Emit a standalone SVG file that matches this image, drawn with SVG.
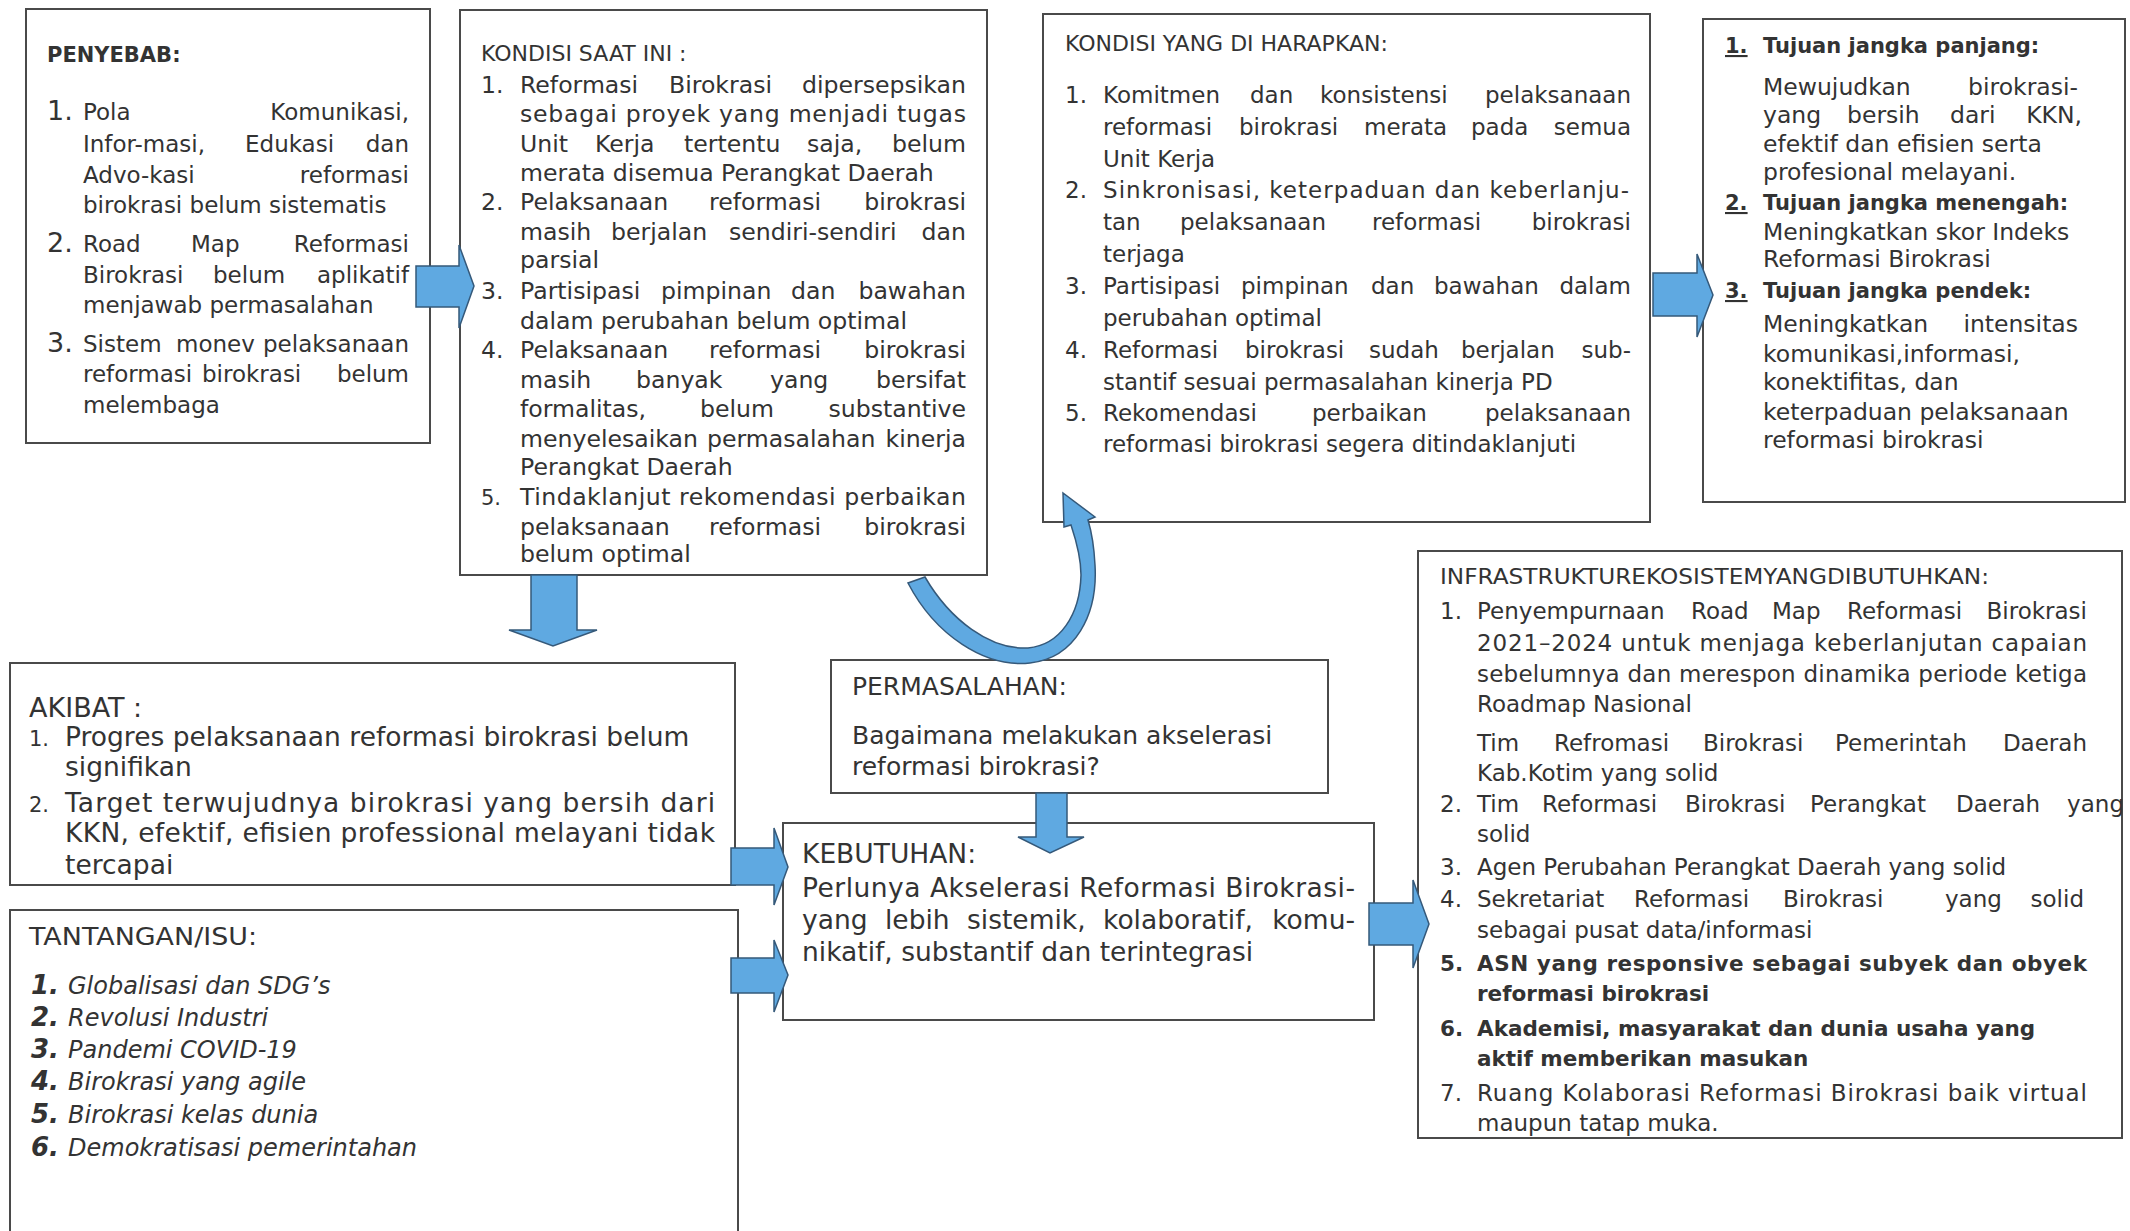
<svg xmlns="http://www.w3.org/2000/svg" width="2130" height="1231" viewBox="0 0 2130 1231">
<style>
.box{fill:#fff;stroke:#4a4a4a;stroke-width:2}
.arr{fill:#5fa9e1;stroke:#35597a;stroke-width:1.5;stroke-linejoin:miter}
text{font-family:"DejaVu Sans",Verdana,sans-serif;fill:#333}
.e{text-anchor:end}
.b{font-weight:bold}
.i{font-style:italic}
</style>
<rect width="2130" height="1231" fill="#fff"/>

<g id="penyebab" font-size="23">
<rect class="box" x="26" y="9" width="404" height="434"/>
<text x="47" y="62" class="b" font-size="21">PENYEBAB:</text>
<text x="47" y="120" font-size="27">1.</text>
<text x="83" y="120">Pola</text><text x="409" y="120" class="e">Komunikasi,</text>
<text x="83" y="152">Infor-masi,</text><text x="245" y="152">Edukasi</text><text x="409" y="152" class="e">dan</text>
<text x="83" y="183">Advo-kasi</text><text x="409" y="183" class="e">reformasi</text>
<text x="83" y="213">birokrasi belum sistematis</text>
<text x="47" y="252" font-size="27">2.</text>
<text x="83" y="252">Road</text><text x="191" y="252">Map</text><text x="409" y="252" class="e">Reformasi</text>
<text x="83" y="283">Birokrasi</text><text x="213" y="283">belum</text><text x="409" y="283" class="e">aplikatif</text>
<text x="83" y="313">menjawab permasalahan</text>
<text x="47" y="352" font-size="27">3.</text>
<text x="83" y="352">Sistem</text><text x="176" y="352">monev</text><text x="409" y="352" class="e">pelaksanaan</text>
<text x="83" y="382">reformasi</text><text x="202" y="382">birokrasi</text><text x="409" y="382" class="e">belum</text>
<text x="83" y="413">melembaga</text>
</g>

<g id="kondisi-saat-ini" font-size="23.6">
<rect class="box" x="460" y="10" width="527" height="565"/>
<text x="481" y="61" font-size="22">KONDISI SAAT INI :</text>
<text x="481" y="92.5">1.</text>
<text x="520" y="92.5">Reformasi</text><text x="669" y="92.5">Birokrasi</text><text x="966" y="92.5" class="e">dipersepsikan</text>
<text x="520" y="122" textLength="446" lengthAdjust="spacing">sebagai proyek yang menjadi tugas</text>
<text x="520" y="151.7">Unit</text><text x="595" y="151.7">Kerja</text><text x="684" y="151.7">tertentu</text><text x="807" y="151.7">saja,</text><text x="966" y="151.7" class="e">belum</text>
<text x="520" y="180.5">merata disemua Perangkat Daerah</text>
<text x="481" y="210">2.</text>
<text x="520" y="210">Pelaksanaan</text><text x="709" y="210">reformasi</text><text x="966" y="210" class="e">birokrasi</text>
<text x="520" y="240">masih</text><text x="611" y="240">berjalan</text><text x="729" y="240">sendiri-sendiri</text><text x="966" y="240" class="e">dan</text>
<text x="520" y="268">parsial</text>
<text x="481" y="299">3.</text>
<text x="520" y="299">Partisipasi</text><text x="661" y="299">pimpinan</text><text x="791" y="299">dan</text><text x="966" y="299" class="e">bawahan</text>
<text x="520" y="328.5">dalam perubahan belum optimal</text>
<text x="481" y="358">4.</text>
<text x="520" y="358">Pelaksanaan</text><text x="709" y="358">reformasi</text><text x="966" y="358" class="e">birokrasi</text>
<text x="520" y="388">masih</text><text x="636" y="388">banyak</text><text x="770" y="388">yang</text><text x="966" y="388" class="e">bersifat</text>
<text x="520" y="417">formalitas,</text><text x="700" y="417">belum</text><text x="966" y="417" class="e">substantive</text>
<text x="520" y="447">menyelesaikan</text><text x="707" y="447">permasalahan</text><text x="966" y="447" class="e">kinerja</text>
<text x="520" y="475">Perangkat Daerah</text>
<text x="481" y="505" font-size="21">5.</text>
<text x="520" y="505" textLength="446" lengthAdjust="spacing">Tindaklanjut rekomendasi perbaikan</text>
<text x="520" y="534.6">pelaksanaan</text><text x="709" y="534.6">reformasi</text><text x="966" y="534.6" class="e">birokrasi</text>
<text x="520" y="562">belum optimal</text>
</g>

<g id="kondisi-diharapkan" font-size="23">
<rect class="box" x="1043" y="14" width="607" height="508"/>
<text x="1065" y="51" font-size="22">KONDISI YANG DI HARAPKAN:</text>
<text x="1065" y="103">1.</text>
<text x="1103" y="103">Komitmen</text><text x="1250" y="103">dan</text><text x="1320" y="103">konsistensi</text><text x="1631" y="103" class="e">pelaksanaan</text>
<text x="1103" y="134.5">reformasi</text><text x="1239" y="134.5">birokrasi</text><text x="1364" y="134.5">merata</text><text x="1471" y="134.5">pada</text><text x="1631" y="134.5" class="e">semua</text>
<text x="1103" y="167">Unit Kerja</text>
<text x="1065" y="198">2.</text>
<text x="1103" y="198" textLength="526" lengthAdjust="spacing">Sinkronisasi, keterpaduan dan keberlanju-</text>
<text x="1103" y="230">tan</text><text x="1180" y="230">pelaksanaan</text><text x="1372" y="230">reformasi</text><text x="1631" y="230" class="e">birokrasi</text>
<text x="1103" y="262">terjaga</text>
<text x="1065" y="294">3.</text>
<text x="1103" y="294">Partisipasi</text><text x="1241" y="294">pimpinan</text><text x="1371" y="294">dan</text><text x="1434" y="294">bawahan</text><text x="1631" y="294" class="e">dalam</text>
<text x="1103" y="326">perubahan optimal</text>
<text x="1065" y="358">4.</text>
<text x="1103" y="358">Reformasi</text><text x="1245" y="358">birokrasi</text><text x="1369" y="358">sudah</text><text x="1461" y="358">berjalan</text><text x="1631" y="358" class="e">sub-</text>
<text x="1103" y="389.5">stantif sesuai permasalahan kinerja PD</text>
<text x="1065" y="421">5.</text>
<text x="1103" y="421">Rekomendasi</text><text x="1312" y="421">perbaikan</text><text x="1631" y="421" class="e">pelaksanaan</text>
<text x="1103" y="452">reformasi birokrasi segera ditindaklanjuti</text>
</g>

<g id="tujuan" font-size="23.5">
<rect class="box" x="1703" y="19" width="422" height="483"/>
<text x="1725" y="53" class="b" font-size="21" text-decoration="underline">1.</text>
<text x="1763" y="53" class="b" font-size="21">Tujuan jangka panjang:</text>
<text x="1763" y="95">Mewujudkan</text><text x="2078" y="95" class="e">birokrasi-</text>
<text x="1763" y="123">yang</text><text x="1847" y="123">bersih</text><text x="1950" y="123">dari</text><text x="2082" y="123" class="e">KKN,</text>
<text x="1763" y="152">efektif dan efisien serta</text>
<text x="1763" y="180">profesional melayani.</text>
<text x="1725" y="210" class="b" font-size="21" text-decoration="underline">2.</text>
<text x="1763" y="210" class="b" font-size="21">Tujuan jangka menengah:</text>
<text x="1763" y="240">Meningkatkan skor Indeks</text>
<text x="1763" y="267">Reformasi Birokrasi</text>
<text x="1725" y="298" class="b" font-size="21" text-decoration="underline">3.</text>
<text x="1763" y="298" class="b" font-size="21">Tujuan jangka pendek:</text>
<text x="1763" y="332">Meningkatkan</text><text x="2078" y="332" class="e">intensitas</text>
<text x="1763" y="362">komunikasi,informasi,</text>
<text x="1763" y="390">konektifitas, dan</text>
<text x="1763" y="420">keterpaduan pelaksanaan</text>
<text x="1763" y="448">reformasi birokrasi</text>
</g>

<g id="infrastruktur" font-size="23">
<rect class="box" x="1418" y="551" width="704" height="587"/>
<text x="1440" y="584" font-size="21" textLength="549" lengthAdjust="spacingAndGlyphs">INFRASTRUKTUREKOSISTEMYANGDIBUTUHKAN:</text>
<text x="1440" y="618.5">1.</text>
<text x="1477" y="618.5">Penyempurnaan</text><text x="1691" y="618.5">Road</text><text x="1772" y="618.5">Map</text><text x="1847" y="618.5">Reformasi</text><text x="2087" y="618.5" class="e">Birokrasi</text>
<text x="1477" y="651" textLength="610" lengthAdjust="spacing">2021–2024 untuk menjaga keberlanjutan capaian</text>
<text x="1477" y="681.6" textLength="610" lengthAdjust="spacing">sebelumnya dan merespon dinamika periode ketiga</text>
<text x="1477" y="712">Roadmap Nasional</text>
<text x="1477" y="750.5">Tim</text><text x="1554" y="750.5">Refromasi</text><text x="1703" y="750.5">Birokrasi</text><text x="1835" y="750.5">Pemerintah</text><text x="2087" y="750.5" class="e">Daerah</text>
<text x="1477" y="781">Kab.Kotim yang solid</text>
<text x="1440" y="811.7">2.</text>
<text x="1477" y="811.7">Tim</text><text x="1542" y="811.7">Reformasi</text><text x="1685" y="811.7">Birokrasi</text><text x="1810" y="811.7">Perangkat</text><text x="1956" y="811.7">Daerah</text><text x="2124" y="811.7" class="e">yang</text>
<text x="1477" y="842">solid</text>
<text x="1440" y="875">3.</text>
<text x="1477" y="875">Agen Perubahan Perangkat Daerah yang solid</text>
<text x="1440" y="907">4.</text>
<text x="1477" y="907">Sekretariat</text><text x="1634" y="907">Reformasi</text><text x="1783" y="907">Birokrasi</text><text x="1945" y="907">yang</text><text x="2084" y="907" class="e">solid</text>
<text x="1477" y="938">sebagai pusat data/informasi</text>
<text x="1440" y="970.5" class="b" font-size="21.5">5.</text>
<text x="1477" y="970.5" class="b" font-size="21.5" textLength="610" lengthAdjust="spacing">ASN yang responsive sebagai subyek dan obyek</text>
<text x="1477" y="1001" class="b" font-size="21.5">reformasi birokrasi</text>
<text x="1440" y="1035.6" class="b" font-size="21.5">6.</text>
<text x="1477" y="1035.6" class="b" font-size="21.5">Akademisi, masyarakat dan dunia usaha yang</text>
<text x="1477" y="1066" class="b" font-size="21.5">aktif memberikan masukan</text>
<text x="1440" y="1100.6">7.</text>
<text x="1477" y="1100.6" textLength="610" lengthAdjust="spacing">Ruang Kolaborasi Reformasi Birokrasi baik virtual</text>
<text x="1477" y="1131">maupun tatap muka.</text>
</g>

<g id="akibat" font-size="26.5">
<rect class="box" x="10" y="663" width="725" height="222"/>
<text x="29" y="717" font-size="27">AKIBAT :</text>
<text x="29" y="745.5" font-size="21">1.</text>
<text x="65" y="745.5">Progres pelaksanaan reformasi birokrasi belum</text>
<text x="65" y="775.7">signifikan</text>
<text x="29" y="811.5" font-size="21">2.</text>
<text x="65" y="811.5" textLength="650" lengthAdjust="spacing">Target terwujudnya birokrasi yang bersih dari</text>
<text x="65" y="841.7" textLength="650" lengthAdjust="spacing">KKN, efektif, efisien professional melayani tidak</text>
<text x="65" y="873.7">tercapai</text>
</g>

<g id="tantangan" font-size="24">
<rect class="box" x="10" y="910" width="728" height="340"/>
<text x="29" y="945" textLength="228" lengthAdjust="spacingAndGlyphs">TANTANGAN/ISU:</text>
<text x="31" y="994" class="b i" font-size="26">1.</text><text x="68" y="994" class="i">Globalisasi dan SDG’s</text>
<text x="31" y="1026" class="b i" font-size="26">2.</text><text x="68" y="1026" class="i">Revolusi Industri</text>
<text x="31" y="1058" class="b i" font-size="26">3.</text><text x="68" y="1058" class="i">Pandemi COVID-19</text>
<text x="31" y="1090" class="b i" font-size="26">4.</text><text x="68" y="1090" class="i">Birokrasi yang agile</text>
<text x="31" y="1122.5" class="b i" font-size="26">5.</text><text x="68" y="1122.5" class="i">Birokrasi kelas dunia</text>
<text x="31" y="1156" class="b i" font-size="26">6.</text><text x="68" y="1156" class="i">Demokratisasi pemerintahan</text>
</g>

<g id="permasalahan" font-size="25">
<rect class="box" x="831" y="660" width="497" height="133"/>
<text x="852" y="695">PERMASALAHAN:</text>
<text x="852" y="744">Bagaimana melakukan akselerasi</text>
<text x="852" y="775">reformasi birokrasi?</text>
</g>

<g id="kebutuhan" font-size="26.5">
<rect class="box" x="783" y="823" width="591" height="197"/>
<text x="802" y="863">KEBUTUHAN:</text>
<text x="802" y="897" textLength="553" lengthAdjust="spacing">Perlunya Akselerasi Reformasi Birokrasi-</text>
<text x="802" y="929">yang</text><text x="885" y="929">lebih</text><text x="967" y="929">sistemik,</text><text x="1103" y="929">kolaboratif,</text><text x="1355" y="929" class="e">komu-</text>
<text x="802" y="961">nikatif, substantif dan terintegrasi</text>
</g>

<g id="connectors">
<polygon class="arr" points="416,266 459,266 459,245 474,286 459,328 459,307 416,307"/>
<polygon class="arr" points="531,575 577,575 577,630 597,630 553,646 509,630 531,630"/>
<path class="arr" d="M908,583 C935,635 985,668 1030,663 C1075,658 1098,615 1095,565 C1094,545 1091,530 1088,520 L1095,517 L1063,493 L1064,527 L1071,525 C1076,540 1081,560 1081,575 C1080,615 1060,645 1028,648 C990,650 950,620 925,577 Z"/>
<polygon class="arr" points="1653,273 1697,273 1697,254 1713,295 1697,337 1697,316 1653,316"/>
<polygon class="arr" points="731,848 774,848 774,828 788,867 774,905 774,885 731,885"/>
<polygon class="arr" points="731,958 774,958 774,940 788,975 774,1012 774,993 731,993"/>
<polygon class="arr" points="1036,793 1067,793 1067,837 1084,837 1050,853 1018,837 1036,837"/>
<polygon class="arr" points="1369,903 1413,903 1413,880 1429,924 1413,968 1413,945 1369,945"/>
</g>
</svg>
